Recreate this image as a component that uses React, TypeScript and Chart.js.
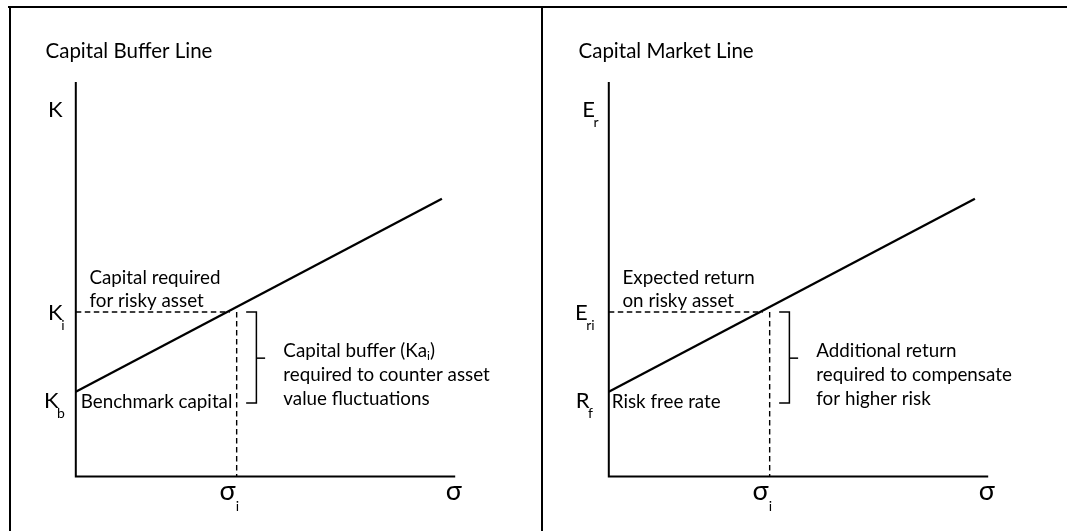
import React, { useEffect, useRef } from "react";
import { Chart, registerables } from "chart.js";

Chart.register(...registerables);

// ---------- data (abstract units, both panels share the same geometry) ----------
const axisX = [0, 0, 100];
const axisY = [100, 0, 0];
const lineX = [0, 96.5];
const lineY = [21.5, 70.4];
const riskyLevel = 41.7; // K_i / E_ri
const sigmaI = 42.4; // σ_i
const lineAtRiskyX = 40.6; // where the line reaches the risky level
const hGuideX = [0, lineAtRiskyX];
const hGuideY = [riskyLevel, riskyLevel];
const vGuideX = [sigmaI, sigmaI];
const vGuideY = [riskyLevel, 0];
const braceX = [44.9, 47.6, 47.6, 44.9];
const braceY = [riskyLevel, riskyLevel, 18.6, 18.6];
const braceTickX = [47.6, 49.9];
const braceTickY = [30.0, 30.0];

// ---------- text ----------
const leftTitle = "Capital Buffer Line";
const rightTitle = "Capital Market Line";
const leftAxisLabels = ["K", "K_i", "K_b", "σ_i", "σ"];
const rightAxisLabels = ["E_r", "E_ri", "R_f", "σ_i", "σ"];
const leftNotes = [
  ["Capital required", "for risky asset"],
  ["Benchmark capital"],
  ["Capital buffer (Ka_i)", "required to counter asset", "value fluctuations"],
];
const rightNotes = [
  ["Expected return", "on risky asset"],
  ["Risk free rate"],
  ["Additional return", "required to compensate", "for higher risk"],
];

// ---------- layout (positions in data units, sizes in px) ----------
const leftAxisLabelPos = [
  [-7.3, 91.2],
  [-7.3, 39.7],
  [-8.4, 17.4],
  [37.9, -6.0],
  [97.5, -6.0],
];
const rightAxisLabelPos = [
  [-7.0, 91.2],
  [-8.9, 39.7],
  [-8.7, 17.4],
  [37.9, -6.0],
  [97.5, -6.0],
];
const axisLabelSizes = [22, 22, 22, 27, 27];
const axisLabelSubShift = [-1.5, -1.5, -1.5, 0, 0];
const leftNotePos = [
  [3.6, 48.8],
  [1.3, 17.4],
  [54.7, 30.4],
];
const rightNotePos = [
  [3.6, 48.8],
  [0.8, 17.4],
  [54.7, 30.4],
];

const FONT = "Lato, 'Open Sans', sans-serif";
const W = 533;
const H = 531;

const pts = (xs: number[], ys: number[]) => xs.map((x, i) => ({ x, y: ys[i] }));

function drawRich(
  ctx: CanvasRenderingContext2D,
  text: string,
  x: number,
  y: number,
  mainSize: number,
  subSize: number,
  subDrop: number,
  subShift: number
) {
  const parts = text.split(/_(\w+)/);
  let cx = x;
  parts.forEach((p, i) => {
    if (!p) return;
    const isSub = i % 2 === 1;
    ctx.font = `${isSub ? subSize : mainSize}px ${FONT}`;
    if (isSub) {
      cx += subShift;
      ctx.fillText(p, cx, y + subDrop);
    } else {
      ctx.fillText(p, cx, y);
    }
    cx += ctx.measureText(p).width;
  });
}

type PanelProps = {
  title: string;
  axisLabels: string[];
  axisLabelPos: number[][];
  notes: string[][];
  notePos: number[][];
};

function Panel({ title, axisLabels, axisLabelPos, notes, notePos }: PanelProps) {
  const ref = useRef<HTMLCanvasElement | null>(null);
  useEffect(() => {
    if (!ref.current) return;
    const textPlugin = {
      id: "diagramText",
      afterDraw(chart: any) {
        const ctx = chart.ctx as CanvasRenderingContext2D;
        const xs = chart.scales.x;
        const ys = chart.scales.y;
        ctx.save();
        ctx.fillStyle = "#000";
        ctx.textBaseline = "alphabetic";
        ctx.textAlign = "left";
        // title
        ctx.font = `20.5px ${FONT}`;
        ctx.fillText(title, 45.5, 57.6);
        // axis labels
        axisLabels.forEach((lab, i) => {
          const [dx, dy] = axisLabelPos[i];
          drawRich(
            ctx,
            lab,
            xs.getPixelForValue(dx),
            ys.getPixelForValue(dy),
            axisLabelSizes[i],
            14,
            i >= 3 ? 11 : 10,
            axisLabelSubShift[i]
          );
        });
        // notes
        notes.forEach((lines, i) => {
          const [dx, dy] = notePos[i];
          const px = xs.getPixelForValue(dx);
          const py = ys.getPixelForValue(dy);
          const gap = lines.length > 2 ? 24 : 22.7;
          lines.forEach((ln, j) => {
            drawRich(ctx, ln, px, py + j * gap, 18.8, 12, 3, 0);
          });
        });
        ctx.restore();
      },
    };
    const common = { showLine: true, pointRadius: 0, borderColor: "#000", fill: false, clip: false as any };
    const chart = new Chart(ref.current, {
      type: "scatter",
      data: {
        datasets: [
          { ...common, data: pts(axisX, axisY), borderWidth: 2 },
          { ...common, data: pts(lineX, lineY), borderWidth: 2.3 },
          { ...common, data: pts(hGuideX, hGuideY), borderWidth: 1.4, borderDash: [5.5, 3.5] },
          { ...common, data: pts(vGuideX, vGuideY), borderWidth: 1.4, borderDash: [5.5, 3.5] },
          { ...common, data: pts(braceX, braceY), borderWidth: 1.5 },
          { ...common, data: pts(braceTickX, braceTickY), borderWidth: 1.5 },
        ],
      },
      options: {
        animation: false,
        responsive: false,
        maintainAspectRatio: false,
        events: [],
        layout: { padding: { left: 75.8, right: W - 455.2, top: 82, bottom: H - 476.5 } },
        scales: {
          x: { type: "linear", min: 0, max: 100, display: false },
          y: { type: "linear", min: 0, max: 100, display: false },
        },
        plugins: { legend: { display: false }, tooltip: { enabled: false }, title: { display: false } },
      },
      plugins: [textPlugin],
    });
    return () => chart.destroy();
  }, []);
  return <canvas ref={ref} width={W} height={H} style={{ width: W, height: H, display: "block" }} />;
}

export default function App() {
  return (
    <div style={{ position: "absolute", left: 0, top: 0, width: 1067, height: 531, background: "#fff", overflow: "hidden" }}>
      <div style={{ position: "absolute", left: 8, top: 6, width: 1059, height: 2, background: "#000" }} />
      <div style={{ position: "absolute", left: 9, top: 6, width: 2, height: 525, background: "#000" }} />
      <div style={{ position: "absolute", left: 541, top: 6, width: 2, height: 525, background: "#000" }} />
      <div style={{ position: "absolute", left: 0, top: 0 }}>
        <Panel title={leftTitle} axisLabels={leftAxisLabels} axisLabelPos={leftAxisLabelPos} notes={leftNotes} notePos={leftNotePos} />
      </div>
      <div style={{ position: "absolute", left: 533, top: 0 }}>
        <Panel title={rightTitle} axisLabels={rightAxisLabels} axisLabelPos={rightAxisLabelPos} notes={rightNotes} notePos={rightNotePos} />
      </div>
    </div>
  );
}
